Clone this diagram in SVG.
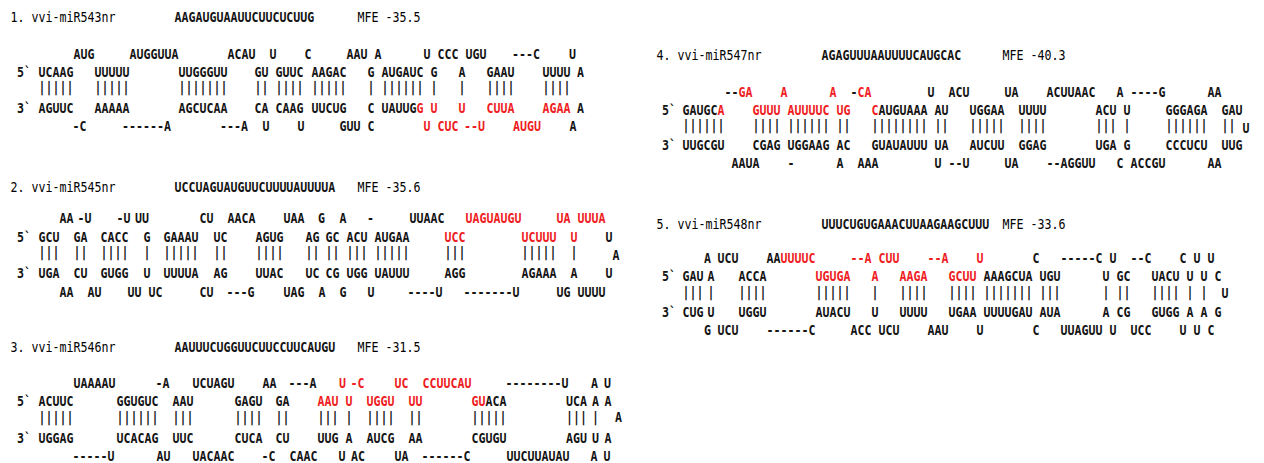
<svg xmlns="http://www.w3.org/2000/svg" width="1264" height="463" viewBox="0 0 1264 463">
<style>
  .t { font-family: "DejaVu Sans Mono", "Liberation Mono", monospace; font-size: 11.63px; font-weight: bold; fill: #141414; white-space: pre; }
  .n { font-weight: normal; fill: #000000; }
  .r { fill: #ee1d23; }
</style>
<rect width="1264" height="463" fill="#ffffff"/>
<!-- all rows are set on a 7px monospace grid; the group stretch gives the tall, narrow letters -->
<g transform="scale(1,1.18)">

<g id="hairpin-mir543">
  <text class="t" y="18.64"><tspan x="10.5" class="n">1. vvi-miR543nr</tspan><tspan x="174.5">AAGAUGUAAUUCUUCUCUUG</tspan><tspan x="357.5" class="n">MFE -35.5</tspan></text>
  <text class="t" y="50"><tspan x="73.5">AUG</tspan><tspan x="129.5">AUGGUUA</tspan><tspan x="227.5">ACAU</tspan><tspan x="269.5">U</tspan><tspan x="304.5">C</tspan><tspan x="346.5">AAU</tspan><tspan x="374.5">A</tspan><tspan x="423.5">U</tspan><tspan x="437.5">CCC</tspan><tspan x="465.5">UGU</tspan><tspan x="512">---C</tspan><tspan x="569">U</tspan></text>
  <text class="t" y="65.25"><tspan x="17">5`</tspan><tspan x="38.5">UCAAG</tspan><tspan x="94.5">UUUUU</tspan><tspan x="178.5">UUGGGUU</tspan><tspan x="254.5">GU</tspan><tspan x="275.5">GUUC</tspan><tspan x="311.5">AAGAC</tspan><tspan x="367.5">G</tspan><tspan x="381.5">AUGAUC</tspan><tspan x="430.5">G</tspan><tspan x="458.5">A</tspan><tspan x="486.5">GAAU</tspan><tspan x="542.5">UUUU</tspan><tspan x="577">A</tspan></text>
  <text class="t" y="77.9"><tspan x="38.5">|||||</tspan><tspan x="94.5">|||||</tspan><tspan x="178.5">|||||||</tspan><tspan x="254.5">||</tspan><tspan x="275.5">||||</tspan><tspan x="311.5">|||||</tspan><tspan x="367.5">|</tspan><tspan x="381.5">||||||</tspan><tspan x="430.5">|</tspan><tspan x="458.5">|</tspan><tspan x="486.5">||||</tspan><tspan x="542.5">||||</tspan></text>
  <text class="t" y="95.76"><tspan x="17">3`</tspan><tspan x="38.5">AGUUC</tspan><tspan x="94.5">AAAAA</tspan><tspan x="178.5">AGCUCAA</tspan><tspan x="254.5">CA</tspan><tspan x="275.5">CAAG</tspan><tspan x="311.5">UUCUG</tspan><tspan x="367.5">C</tspan><tspan x="381.5">UAUUG</tspan><tspan x="416.5" class="r">G</tspan><tspan x="430.5" class="r">U</tspan><tspan x="458.5" class="r">U</tspan><tspan x="486.5" class="r">CUUA</tspan><tspan x="542.5" class="r">AGAA</tspan><tspan x="577">A</tspan></text>
  <text class="t" y="111.02"><tspan x="72.5">-C</tspan><tspan x="122">------A</tspan><tspan x="220">---A</tspan><tspan x="262.5">U</tspan><tspan x="297.5">U</tspan><tspan x="339.5">GUU</tspan><tspan x="367.5">C</tspan><tspan x="423.5" class="r">U</tspan><tspan x="437.5" class="r">CUC</tspan><tspan x="464" class="r">--U</tspan><tspan x="513" class="r">AUGU</tspan><tspan x="569.5">A</tspan></text>
</g>

<g id="hairpin-mir545">
  <text class="t" y="162.71"><tspan x="10.5" class="n">2. vvi-miR545nr</tspan><tspan x="174.5">UCCUAGUAUGUUCUUUUAUUUUA</tspan><tspan x="357.5" class="n">MFE -35.6</tspan></text>
  <text class="t" y="188.98"><tspan x="59.5">AA</tspan><tspan x="77.5">-U</tspan><tspan x="116.5">-U</tspan><tspan x="135">UU</tspan><tspan x="199.5">CU</tspan><tspan x="227.5">AACA</tspan><tspan x="283.5">UAA</tspan><tspan x="318">G</tspan><tspan x="339.5">A</tspan><tspan x="367">-</tspan><tspan x="409.5">UUAAC</tspan><tspan x="465.5" class="r">UAGUAUGU</tspan><tspan x="556.5" class="r">UA</tspan><tspan x="577.5" class="r">UUUA</tspan></text>
  <text class="t" y="205.08"><tspan x="17">5`</tspan><tspan x="38.5">GCU</tspan><tspan x="73.5">GA</tspan><tspan x="100.5">CACC</tspan><tspan x="143.5">G</tspan><tspan x="163.5">GAAAU</tspan><tspan x="213.5">UC</tspan><tspan x="255.5">AGUG</tspan><tspan x="305.5">AG</tspan><tspan x="325.5">GC</tspan><tspan x="346.5">ACU</tspan><tspan x="374.5">AUGAA</tspan><tspan x="444.5" class="r">UCC</tspan><tspan x="521.5" class="r">UCUUU</tspan><tspan x="570.5" class="r">U</tspan><tspan x="605.5">U</tspan></text>
  <text class="t" y="217.6"><tspan x="38.5">|||</tspan><tspan x="73.5">||</tspan><tspan x="100.5">||||</tspan><tspan x="143.5">|</tspan><tspan x="163.5">|||||</tspan><tspan x="213.5">||</tspan><tspan x="255.5">||||</tspan><tspan x="305.5">||</tspan><tspan x="325.5">||</tspan><tspan x="346.5">|||</tspan><tspan x="374.5">|||||</tspan><tspan x="444.5">|||</tspan><tspan x="521.5">|||||</tspan><tspan x="570.5">|</tspan></text>
  <text class="t" y="220.34"><tspan x="612.5">A</tspan></text>
  <text class="t" y="235.59"><tspan x="17">3`</tspan><tspan x="38.5">UGA</tspan><tspan x="73.5">CU</tspan><tspan x="100.5">GUGG</tspan><tspan x="143.5">U</tspan><tspan x="163.5">UUUUA</tspan><tspan x="213.5">AG</tspan><tspan x="255.5">UUAC</tspan><tspan x="305.5">UC</tspan><tspan x="325.5">CG</tspan><tspan x="346.5">UGG</tspan><tspan x="374.5">UAUUU</tspan><tspan x="444.5">AGG</tspan><tspan x="521.5">AGAAA</tspan><tspan x="570.5">A</tspan><tspan x="605.5">U</tspan></text>
  <text class="t" y="251.69"><tspan x="59.5">AA</tspan><tspan x="87.5">AU</tspan><tspan x="127.5">UU</tspan><tspan x="148.5">UC</tspan><tspan x="199.5">CU</tspan><tspan x="226.5">---G</tspan><tspan x="283.5">UAG</tspan><tspan x="318.5">A</tspan><tspan x="339.5">G</tspan><tspan x="367.5">U</tspan><tspan x="407.5">----U</tspan><tspan x="463.5">-------U</tspan><tspan x="556.5">UG</tspan><tspan x="577.5">UUUU</tspan></text>
</g>

<g id="hairpin-mir546">
  <text class="t" y="298.31"><tspan x="10.5" class="n">3. vvi-miR546nr</tspan><tspan x="174.5">AAUUUCUGGUUCUUCCUUCAUGU</tspan><tspan x="357.5" class="n">MFE -31.5</tspan></text>
  <text class="t" y="328.81"><tspan x="73.5">UAAAAU</tspan><tspan x="155.5">-A</tspan><tspan x="192.5">UCUAGU</tspan><tspan x="262.5">AA</tspan><tspan x="288.5">---A</tspan><tspan x="339" class="r">U</tspan><tspan x="350.5" class="r">-C</tspan><tspan x="394.5" class="r">UC</tspan><tspan x="422.5" class="r">CCUUCAU</tspan><tspan x="505.5">--------U</tspan><tspan x="591">A</tspan><tspan x="604">U</tspan></text>
  <text class="t" y="344.49"><tspan x="17">5`</tspan><tspan x="38.5">ACUUC</tspan><tspan x="116.5">GGUGUC</tspan><tspan x="172.5">AAU</tspan><tspan x="234.5">GAGU</tspan><tspan x="275.5">GA</tspan><tspan x="317.5" class="r">AAU</tspan><tspan x="345.5" class="r">U</tspan><tspan x="366.5" class="r">UGGU</tspan><tspan x="408.5" class="r">UU</tspan><tspan x="471.5" class="r">GU</tspan><tspan x="485.5">ACA</tspan><tspan x="566">UCA</tspan><tspan x="592">A</tspan><tspan x="604.5">A</tspan></text>
  <text class="t" y="357.5"><tspan x="38.5">|||||</tspan><tspan x="116.5">||||||</tspan><tspan x="172.5">|||</tspan><tspan x="234.5">||||</tspan><tspan x="275.5">||</tspan><tspan x="317.5">|||</tspan><tspan x="345.5">|</tspan><tspan x="366.5">||||</tspan><tspan x="408.5">||</tspan><tspan x="471.5">|||||</tspan><tspan x="566">|||</tspan><tspan x="592">|</tspan><tspan x="615">A</tspan></text>
  <text class="t" y="375.42"><tspan x="17">3`</tspan><tspan x="38.5">UGGAG</tspan><tspan x="116.5">UCACAG</tspan><tspan x="172.5">UUC</tspan><tspan x="234.5">CUCA</tspan><tspan x="275.5">CU</tspan><tspan x="317.5">UUG</tspan><tspan x="345.5">A</tspan><tspan x="366.5">AUCG</tspan><tspan x="408.5">AA</tspan><tspan x="471.5">CGUGU</tspan><tspan x="566">AGU</tspan><tspan x="592">U</tspan><tspan x="604.5">A</tspan></text>
  <text class="t" y="391.1"><tspan x="72.5">-----U</tspan><tspan x="156.5">AU</tspan><tspan x="192.5">UACAAC</tspan><tspan x="261.5">-C</tspan><tspan x="289.5">CAAC</tspan><tspan x="338.5">U</tspan><tspan x="351">AC</tspan><tspan x="394.5">UA</tspan><tspan x="421.5">------C</tspan><tspan x="506.5">UUCUUAUAU</tspan><tspan x="590.5">A</tspan><tspan x="603.5">U</tspan></text>
</g>

<g id="hairpin-mir547">
  <text class="t" y="50.85"><tspan x="656.5" class="n">4. vvi-miR547nr</tspan><tspan x="821.5">AGAGUUUAAUUUUCAUGCAC</tspan><tspan x="1002.5" class="n">MFE -40.3</tspan></text>
  <text class="t" y="82.2"><tspan x="724.5">--</tspan><tspan x="738.5" class="r">GA</tspan><tspan x="780.5" class="r">A</tspan><tspan x="829.5" class="r">A</tspan><tspan x="850.5">-</tspan><tspan x="857.5" class="r">CA</tspan><tspan x="927.5">U</tspan><tspan x="948.5">ACU</tspan><tspan x="1004.5">UA</tspan><tspan x="1046.5">ACUUAAC</tspan><tspan x="1116.5">A</tspan><tspan x="1130.5">----G</tspan><tspan x="1207.5">AA</tspan></text>
  <text class="t" y="97.46"><tspan x="662">5`</tspan><tspan x="682.5">GAUGC</tspan><tspan x="717.5" class="r">A</tspan><tspan x="752.5" class="r">GUUU</tspan><tspan x="787.5" class="r">AUUUUC</tspan><tspan x="836.5" class="r">UG</tspan><tspan x="871.5" class="r">C</tspan><tspan x="878.5">AUGUAAA</tspan><tspan x="934.5">AU</tspan><tspan x="969.5">UGGAA</tspan><tspan x="1018.5">UUUU</tspan><tspan x="1095.5">ACU</tspan><tspan x="1123.5">U</tspan><tspan x="1165.5">GGGAGA</tspan><tspan x="1221.5">GAU</tspan></text>
  <text class="t" y="110.1"><tspan x="682.5">||||||</tspan><tspan x="752.5">||||</tspan><tspan x="787.5">||||||</tspan><tspan x="836.5">||</tspan><tspan x="871.5">||||||||</tspan><tspan x="934.5">||</tspan><tspan x="969.5">|||||</tspan><tspan x="1018.5">||||</tspan><tspan x="1095.5">|||</tspan><tspan x="1123.5">|</tspan><tspan x="1165.5">||||||</tspan><tspan x="1221.5">||</tspan></text>
  <text class="t" y="112.71"><tspan x="1242.5">U</tspan></text>
  <text class="t" y="127.12"><tspan x="662">3`</tspan><tspan x="682.5">UUGCGU</tspan><tspan x="752.5">CGAG</tspan><tspan x="787.5">UGGAAG</tspan><tspan x="836.5">AC</tspan><tspan x="871.5">GUAUAUUU</tspan><tspan x="934.5">UA</tspan><tspan x="969.5">AUCUU</tspan><tspan x="1018.5">GGAG</tspan><tspan x="1095.5">UGA</tspan><tspan x="1123.5">G</tspan><tspan x="1165.5">CCCUCU</tspan><tspan x="1221.5">UUG</tspan></text>
  <text class="t" y="142.37"><tspan x="731.5">AAUA</tspan><tspan x="787.5">-</tspan><tspan x="836.5">A</tspan><tspan x="857.5">AAA</tspan><tspan x="934.5">U</tspan><tspan x="948.5">--U</tspan><tspan x="1004.5">UA</tspan><tspan x="1046.5">--AGGUU</tspan><tspan x="1116.5">C</tspan><tspan x="1130.5">ACCGU</tspan><tspan x="1207.5">AA</tspan></text>
</g>

<g id="hairpin-mir548">
  <text class="t" y="194.07"><tspan x="656.5" class="n">5. vvi-miR548nr</tspan><tspan x="821.5">UUUCUGUGAAACUUAAGAAGCUUU</tspan><tspan x="1002.5" class="n">MFE -33.6</tspan></text>
  <text class="t" y="222.88"><tspan x="704">A</tspan><tspan x="717.5">UCU</tspan><tspan x="766.5">AA</tspan><tspan x="780.5" class="r">UUUUC</tspan><tspan x="850.5" class="r">--A</tspan><tspan x="878.5" class="r">CUU</tspan><tspan x="927.5" class="r">--A</tspan><tspan x="976.5" class="r">U</tspan><tspan x="1032.5">C</tspan><tspan x="1060.5">-----C</tspan><tspan x="1109.5">U</tspan><tspan x="1130.5">--C</tspan><tspan x="1179.5">C</tspan><tspan x="1193.5">U</tspan><tspan x="1207.5">U</tspan></text>
  <text class="t" y="238.14"><tspan x="662">5`</tspan><tspan x="682.5">GAU</tspan><tspan x="707.5">A</tspan><tspan x="738.5">ACCA</tspan><tspan x="815.5" class="r">UGUGA</tspan><tspan x="871.5" class="r">A</tspan><tspan x="899.5" class="r">AAGA</tspan><tspan x="948.5" class="r">GCUU</tspan><tspan x="983.5">AAAGCUA</tspan><tspan x="1039.5">UGU</tspan><tspan x="1102.5">U</tspan><tspan x="1116.5">GC</tspan><tspan x="1151.5">UACU</tspan><tspan x="1186.5">U</tspan><tspan x="1200.5">U</tspan><tspan x="1214.5">C</tspan></text>
  <text class="t" y="251.6"><tspan x="682.5">|||</tspan><tspan x="707.5">|</tspan><tspan x="738.5">||||</tspan><tspan x="815.5">|||||</tspan><tspan x="871.5">|</tspan><tspan x="899.5">||||</tspan><tspan x="948.5">||||</tspan><tspan x="983.5">|||||||</tspan><tspan x="1039.5">|||</tspan><tspan x="1102.5">|</tspan><tspan x="1116.5">||</tspan><tspan x="1151.5">||||</tspan><tspan x="1186.5">|</tspan><tspan x="1200.5">|</tspan></text>
  <text class="t" y="252.54"><tspan x="1221.5">U</tspan></text>
  <text class="t" y="268.64"><tspan x="662">3`</tspan><tspan x="682.5">CUG</tspan><tspan x="707.5">U</tspan><tspan x="738.5">UGGU</tspan><tspan x="815.5">AUACU</tspan><tspan x="871.5">U</tspan><tspan x="899.5">UUUU</tspan><tspan x="948.5">UGAA</tspan><tspan x="983.5">UUUUGAU</tspan><tspan x="1039.5">AUA</tspan><tspan x="1102.5">A</tspan><tspan x="1116.5">CG</tspan><tspan x="1151.5">GUGG</tspan><tspan x="1186.5">A</tspan><tspan x="1200.5">A</tspan><tspan x="1214.5">G</tspan></text>
  <text class="t" y="283.9"><tspan x="704">G</tspan><tspan x="717.5">UCU</tspan><tspan x="766.5">------C</tspan><tspan x="850.5">ACC</tspan><tspan x="878.5">UCU</tspan><tspan x="927.5">AAU</tspan><tspan x="976.5">U</tspan><tspan x="1032.5">C</tspan><tspan x="1060.5">UUAGUU</tspan><tspan x="1109.5">U</tspan><tspan x="1130.5">UCC</tspan><tspan x="1179.5">U</tspan><tspan x="1193.5">U</tspan><tspan x="1207.5">C</tspan></text>
</g>

</g>
</svg>
